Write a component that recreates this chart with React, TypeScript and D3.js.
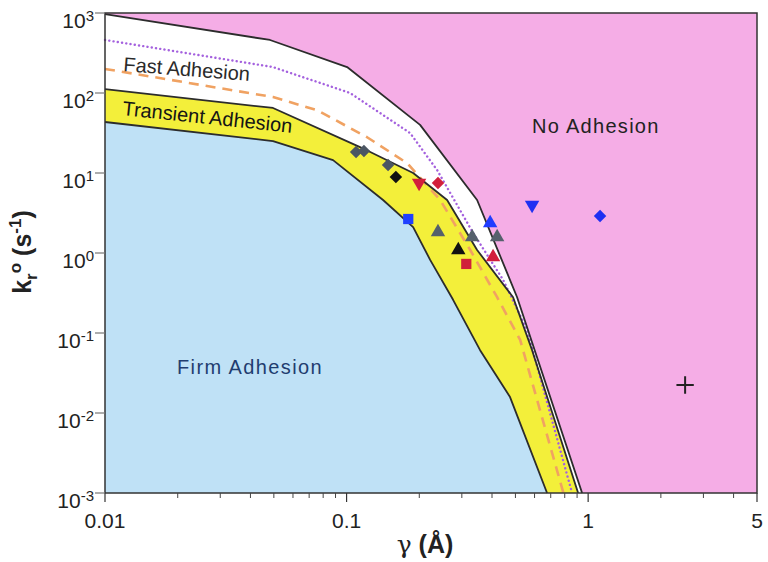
import React from "react";
import * as d3 from "d3";

// ---------- data (γ in Å, k_r° in s^-1) ----------
const noAdhesionBoundary = [
  { g: 0.01, k: 970 }, { g: 0.0482, k: 460 }, { g: 0.1005, k: 211 },
  { g: 0.2015, k: 40 }, { g: 0.347, k: 4.6 }, { g: 0.508, k: 0.28 }, { g: 0.944, k: 0.001 },
];
const dottedBoundary = [
  { g: 0.01, k: 460 }, { g: 0.0496, k: 211 }, { g: 0.1034, k: 100 }, { g: 0.1832, k: 31.6 },
  { g: 0.237, k: 10.9 }, { g: 0.334, k: 1.78 }, { g: 0.445, k: 0.46 }, { g: 0.559, k: 0.109 },
  { g: 0.858, k: 0.001 },
];
const dashedBoundary = [
  { g: 0.01, k: 200 }, { g: 0.0496, k: 89 }, { g: 0.0755, k: 61 }, { g: 0.1216, k: 28 },
  { g: 0.178, k: 13.3 }, { g: 0.244, k: 4.6 }, { g: 0.325, k: 1.09 }, { g: 0.42, k: 0.28 },
  { g: 0.523, k: 0.082 }, { g: 0.79, k: 0.001 },
];
const transientUpper = [
  { g: 0.01, k: 112 }, { g: 0.0496, k: 65 }, { g: 0.1137, k: 21.1 }, { g: 0.1886, k: 10 },
  { g: 0.2607, k: 4.6 }, { g: 0.347, k: 1.09 }, { g: 0.489, k: 0.28 }, { g: 0.586, k: 0.061 },
  { g: 0.909, k: 0.001 },
];
const firmUpper = [
  { g: 0.01, k: 43.4 }, { g: 0.0496, k: 25.1 }, { g: 0.0879, k: 14.5 }, { g: 0.1416, k: 4.6 },
  { g: 0.1886, k: 2.11 }, { g: 0.2218, k: 0.82 }, { g: 0.276, k: 0.26 }, { g: 0.357, k: 0.061 },
  { g: 0.475, k: 0.0158 }, { g: 0.676, k: 0.001 },
];

const slateDiamonds = [{ g: 0.1095, k: 18.3 }, { g: 0.118, k: 18.8 }, { g: 0.1485, k: 12.6 }];
const blackDiamonds = [{ g: 0.16, k: 8.9 }];
const redDiamonds = [{ g: 0.239, k: 7.5 }];
const blueDiamonds = [{ g: 1.12, k: 2.9 }];
const redTrianglesDown = [{ g: 0.1996, k: 7.5 }];
const blueTrianglesDown = [{ g: 0.586, k: 3.98 }];
const grayTrianglesUp = [{ g: 0.239, k: 1.83 }, { g: 0.331, k: 1.58 }, { g: 0.42, k: 1.58 }];
const blackTrianglesUp = [{ g: 0.29, k: 1.09 }];
const blueTrianglesUp = [{ g: 0.393, k: 2.37 }];
const redTrianglesUp = [{ g: 0.404, k: 0.89 }];
const blueSquares = [{ g: 0.18, k: 2.66 }];
const redSquares = [{ g: 0.313, k: 0.73 }];
const plusMarks = [{ g: 2.52, k: 0.0224 }];

const xTickValues = [0.01, 0.1, 1, 5];
const xTickLabels = ["0.01", "0.1", "1", "5"];
const yTickExponents = [3, 2, 1, 0, -1, -2, -3];

// ---------- layout ----------
const W = 768, H = 562;
const L = 105, R = 757, T = 13, B = 493;

const x = d3.scaleLog().domain([0.01, 5]).range([L, R]);
const y = d3.scaleLog().domain([1e-3, 1e3]).range([B, T]);

const line = d3.line<{ g: number; k: number }>().x(d => x(d.g)).y(d => y(d.k));
const area = d3.area<{ g: number; k: number }>().x(d => x(d.g)).y0(B).y1(d => y(d.k));

const markerStyles = [
  { data: slateDiamonds, shape: "diamond", fill: "#4b5663", size: 78 },
  { data: blackDiamonds, shape: "diamond", fill: "#111111", size: 78 },
  { data: redDiamonds, shape: "diamond", fill: "#d21f3c", size: 78 },
  { data: blueDiamonds, shape: "diamond", fill: "#1f2ff2", size: 78 },
  { data: redTrianglesDown, shape: "triDown", fill: "#d21f3c", size: 90 },
  { data: blueTrianglesDown, shape: "triDown", fill: "#1f2ff2", size: 90 },
  { data: grayTrianglesUp, shape: "triUp", fill: "#55606c", size: 90 },
  { data: blackTrianglesUp, shape: "triUp", fill: "#111111", size: 90 },
  { data: blueTrianglesUp, shape: "triUp", fill: "#1f3cff", size: 90 },
  { data: redTrianglesUp, shape: "triUp", fill: "#d21f3c", size: 90 },
  { data: blueSquares, shape: "square", fill: "#1f40ff", size: 105 },
  { data: redSquares, shape: "square", fill: "#d0203a", size: 105 },
  { data: plusMarks, shape: "plus", fill: "#222222", size: 100 },
];

function symbolPath(shape: string, size: number) {
  if (shape === "diamond" || shape === "square") return d3.symbol(d3.symbolSquare, size)()!;
  if (shape === "triUp" || shape === "triDown") return d3.symbol(d3.symbolTriangle, size)()!;
  const plus = (d3 as any).symbolPlus || d3.symbolCross;
  return d3.symbol(plus, size)()!;
}

export default function App() {
  const xMinor = x.ticks().filter(v => !xTickValues.includes(v));
  const font = "'Liberation Sans', Arial, sans-serif";
  return (
    <svg width={W} height={H} style={{ position: "absolute", left: 0, top: 0, background: "#fff" }} fontFamily={font}>
      {/* regions */}
      <rect x={L} y={T} width={R - L} height={B - T} fill="#f5ade6" />
      <path d={area(noAdhesionBoundary)!} fill="#ffffff" />
      <path d={area(transientUpper)!} fill="#f3ef3a" />
      <path d={area(firmUpper)!} fill="#bfe1f6" />

      {/* boundary lines */}
      <path d={line(dottedBoundary)!} fill="none" stroke="#a461de" strokeWidth={2.4} strokeDasharray="0.1 4.2" strokeLinecap="round" strokeLinejoin="round" />
      <path d={line(dashedBoundary)!} fill="none" stroke="#f0a262" strokeWidth={2.6} strokeDasharray="10 7" strokeLinejoin="round" />
      <path d={line(noAdhesionBoundary)!} fill="none" stroke="#2c2c2c" strokeWidth={1.8} strokeLinejoin="round" />
      <path d={line(transientUpper)!} fill="none" stroke="#2c2c2c" strokeWidth={1.8} strokeLinejoin="round" />
      <path d={line(firmUpper)!} fill="none" stroke="#2c2c2c" strokeWidth={1.8} strokeLinejoin="round" />

      {/* markers */}
      {markerStyles.map((s, i) =>
        s.data.map((d, j) => {
          const rot = s.shape === "diamond" ? 45 : s.shape === "triDown" ? 180 : 0;
          const isPlus = s.shape === "plus";
          return (
            <path
              key={`${i}-${j}`}
              d={symbolPath(s.shape, s.size)}
              transform={`translate(${x(d.g)},${y(d.k)}) rotate(${rot})`}
              fill={isPlus ? "none" : s.fill}
              stroke={isPlus ? s.fill : "none"}
              strokeWidth={isPlus ? 2 : 0}
            />
          );
        })
      )}

      {/* region labels */}
      <text x={123} y={71} fontSize={20} fill="#2a2a2a" transform="rotate(4.5 123 71)">Fast Adhesion</text>
      <text x={122} y={115} fontSize={20} fill="#151515" transform="rotate(6 122 115)">Transient Adhesion</text>
      <text x={532} y={133} fontSize={20} fill="#222" letterSpacing={1.3}>No Adhesion</text>
      <text x={177} y={374} fontSize={20} fill="#1f3d70" letterSpacing={1.4}>Firm Adhesion</text>

      {/* frame */}
      <rect x={L} y={T} width={R - L} height={B - T} fill="none" stroke="#333" strokeWidth={1.5} />

      {/* x ticks */}
      {xTickValues.map((v, i) => (
        <g key={`xt${i}`}>
          <line x1={x(v)} x2={x(v)} y1={B} y2={B + 9} stroke="#333" strokeWidth={1.2} />
          <text x={x(v)} y={528} fontSize={21} textAnchor="middle" fill="#222">{xTickLabels[i]}</text>
        </g>
      ))}
      {xMinor.map((v, i) => (
        <line key={`xm${i}`} x1={x(v)} x2={x(v)} y1={B} y2={B + 5} stroke="#444" strokeWidth={1} />
      ))}

      {/* y ticks */}
      {yTickExponents.map(e => {
        const yy = y(Math.pow(10, e));
        return (
          <g key={`yt${e}`}>
            <line x1={L - 10} x2={L} y1={yy} y2={yy} stroke="#777" strokeWidth={1.2} />
            <text x={94} y={yy + 15} fontSize={21} textAnchor="end" fill="#222">
              <tspan>10</tspan>
              <tspan fontSize={15} dy={-7}>{String(e)}</tspan>
            </text>
          </g>
        );
      })}

      {/* axis titles */}
      <text x={425} y={553} fontSize={25} textAnchor="middle" fill="#222" fontWeight="bold">
        <tspan fontWeight="normal" fontFamily="'DejaVu Serif', serif">γ</tspan>
        <tspan> (Å)</tspan>
      </text>
      <text transform="translate(31 252) rotate(-90)" fontSize={25} textAnchor="middle" fill="#222" fontWeight="bold">
        <tspan>k</tspan>
        <tspan fontSize={17} dy={6}>r</tspan>
        <tspan fontSize={17} dy={-16}>o</tspan>
        <tspan dy={10}> (s</tspan>
        <tspan fontSize={17} dy={-10}>-1</tspan>
        <tspan dy={10}>)</tspan>
      </text>
    </svg>
  );
}
